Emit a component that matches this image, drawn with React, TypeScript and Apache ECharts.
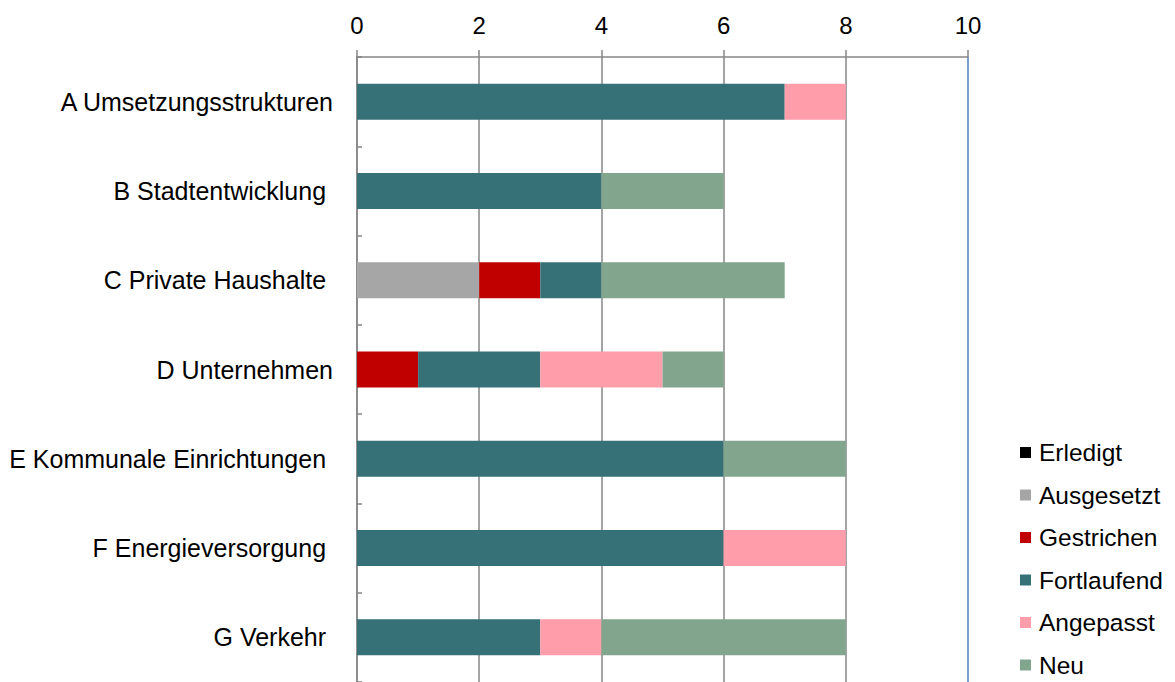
import React, { useEffect, useRef } from "react";
import * as echarts from "echarts";

const categories = [
  "A Umsetzungsstrukturen",
  "B Stadtentwicklung ",
  "C Private Haushalte ",
  "D Unternehmen",
  "E Kommunale Einrichtungen ",
  "F Energieversorgung ",
  "G Verkehr ",
];
const seriesNames = ["Erledigt", "Ausgesetzt", "Gestrichen", "Fortlaufend", "Angepasst", "Neu"];
const erledigt = [0, 0, 0, 0, 0, 0, 0];
const ausgesetzt = [0, 0, 2, 0, 0, 0, 0];
const gestrichen = [0, 0, 1, 1, 0, 0, 0];
const fortlaufend = [7, 4, 1, 2, 6, 6, 3];
const angepasst = [1, 0, 0, 2, 0, 2, 1];
const neu = [0, 2, 3, 1, 2, 0, 4];
const colors = ["#000000", "#A6A6A6", "#C00000", "#367178", "#FF9DAA", "#82A58E"];

export default function App() {
  const ref = useRef<HTMLDivElement>(null);
  useEffect(() => {
    const chart = echarts.init(ref.current!, undefined, { renderer: "svg" });
    const values = [erledigt, ausgesetzt, gestrichen, fortlaufend, angepasst, neu];
    chart.setOption({
      animation: false,
      textStyle: { fontFamily: "Liberation Sans, Arial, sans-serif" },
      grid: { left: 357, top: 57, width: 611, height: 630, containLabel: false },
      legend: {
        orient: "vertical",
        left: 1020,
        top: 440,
        padding: 0,
        itemWidth: 11,
        itemHeight: 11,
        itemGap: 17.5,
        icon: "rect",
        data: seriesNames,
        textStyle: { fontSize: 24.5, color: "#000", lineHeight: 24, padding: [0, 0, 0, 3] },
      },
      xAxis: {
        type: "value",
        position: "top",
        min: 0,
        max: 10,
        interval: 2,
        axisLine: { show: true, lineStyle: { color: "#868686", width: 1.5 } },
        axisTick: { show: true, length: 7, lineStyle: { color: "#868686", width: 1.5 } },
        axisLabel: { fontSize: 24, color: "#000", margin: 20 },
        splitLine: {
          show: true,
          lineStyle: {
            color: ["#868686", "#868686", "#868686", "#868686", "#868686", "#4F81BD"],
            width: 1.5,
          },
        },
      },
      yAxis: {
        type: "category",
        inverse: true,
        data: categories,
        axisLine: { show: true, lineStyle: { color: "#868686", width: 1.5 } },
        axisTick: { show: true, inside: true, length: 5, lineStyle: { color: "#868686", width: 1.5 } },
        axisLabel: { fontSize: 25, color: "#000", margin: 24 },
      },
      series: seriesNames.map((name, i) => ({
        name,
        type: "bar",
        stack: "total",
        barWidth: 36,
        data: values[i],
        itemStyle: { color: colors[i] },
      })),
    });
    return () => chart.dispose();
  }, []);
  return <div ref={ref} style={{ width: 1175, height: 682, position: "absolute", left: 0, top: 0 }} />;
}
